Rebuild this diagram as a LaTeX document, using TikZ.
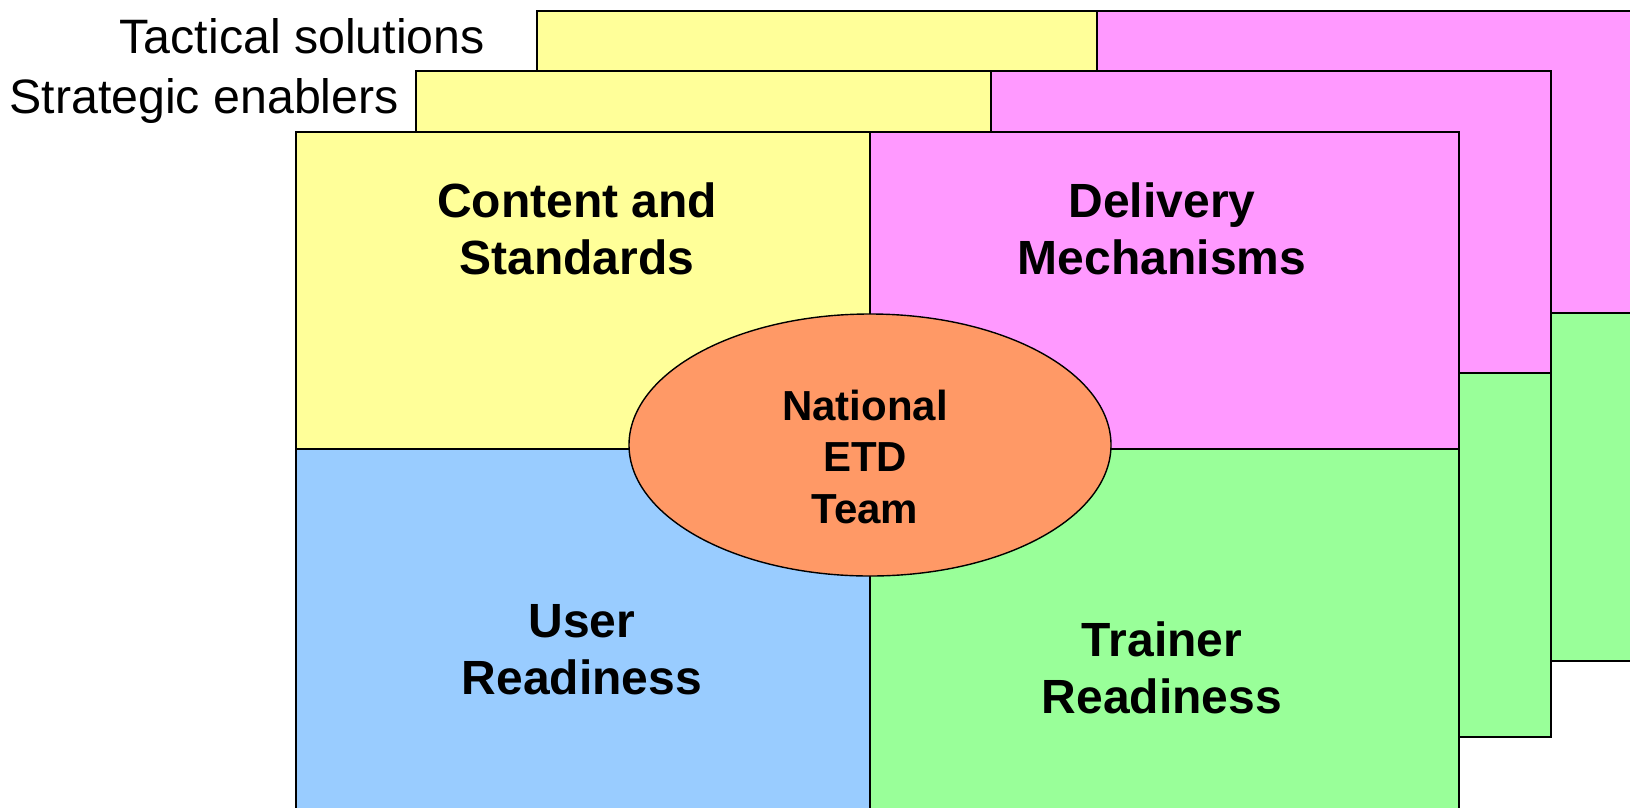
\documentclass[tikz,border=0pt]{standalone}
\usepackage{fontspec}
\setmainfont{Liberation Sans}
\usetikzlibrary{shapes.geometric}
\definecolor{cellyellow}{RGB}{255,255,153}
\definecolor{cellpink}{RGB}{255,153,255}
\definecolor{cellblue}{RGB}{153,204,255}
\definecolor{cellgreen}{RGB}{153,255,153}
\definecolor{huborange}{RGB}{255,153,102}
\begin{document}
\begin{tikzpicture}[x=1pt,y=-1pt,
  cell/.style={draw=black,line width=1.4pt},
  layerlabel/.style={inner sep=0pt,anchor=base east,font=\fontsize{48.3}{57}\selectfont},
  celltext/.style={inner sep=0pt,align=center,font=\fontsize{48}{57}\selectfont\bfseries},
  hub/.style={ellipse,draw=black,line width=1.4pt,fill=huborange,
    minimum width=482pt,minimum height=262pt,inner sep=0pt,align=center,
    font=\fontsize{42}{51.5}\selectfont\bfseries}]
\useasboundingbox (0,0) rectangle (1630,807);
\clip (0,0) rectangle (1630,807);

% back layer: tactical solutions
\path[cell,fill=cellyellow] (537,11) rectangle (1097,313);
\path[cell,fill=cellpink]   (1097,11) rectangle (1700,313);
\path[cell,fill=cellgreen]  (1097,313) rectangle (1700,661);

% middle layer: strategic enablers
\path[cell,fill=cellyellow] (416,71) rectangle (991,373);
\path[cell,fill=cellpink]   (991,71) rectangle (1551,373);
\path[cell,fill=cellgreen]  (991,373) rectangle (1551,737);

% front layer
\path[cell,fill=cellyellow] (296,132) rectangle (870,449);
\path[cell,fill=cellpink]   (870,132) rectangle (1459,449);
\path[cell,fill=cellblue]   (296,449) rectangle (870,830);
\path[cell,fill=cellgreen]  (870,449) rectangle (1459,830);

% layer labels
\node[layerlabel] (tactical) at (485,53) {Tactical solutions};
\node[layerlabel] (strategic) at (399,113) {Strategic enablers};

% quadrant titles
\node[celltext] (content)  at (577,229) {Content and\\Standards};
\node[celltext] (delivery) at (1162,229) {Delivery\\Mechanisms};
\node[celltext] (user)     at (582,650) {User\\Readiness};
\node[celltext] (trainer)  at (1162,668) {Trainer\\Readiness};

% central team
\node[hub] (team) at (870,445) {};
\node[inner sep=0pt,align=center,font=\fontsize{42}{51.5}\selectfont\bfseries]
  (teamtext) at (865,456.5) {National\\ETD\\Team};
\end{tikzpicture}
\end{document}
